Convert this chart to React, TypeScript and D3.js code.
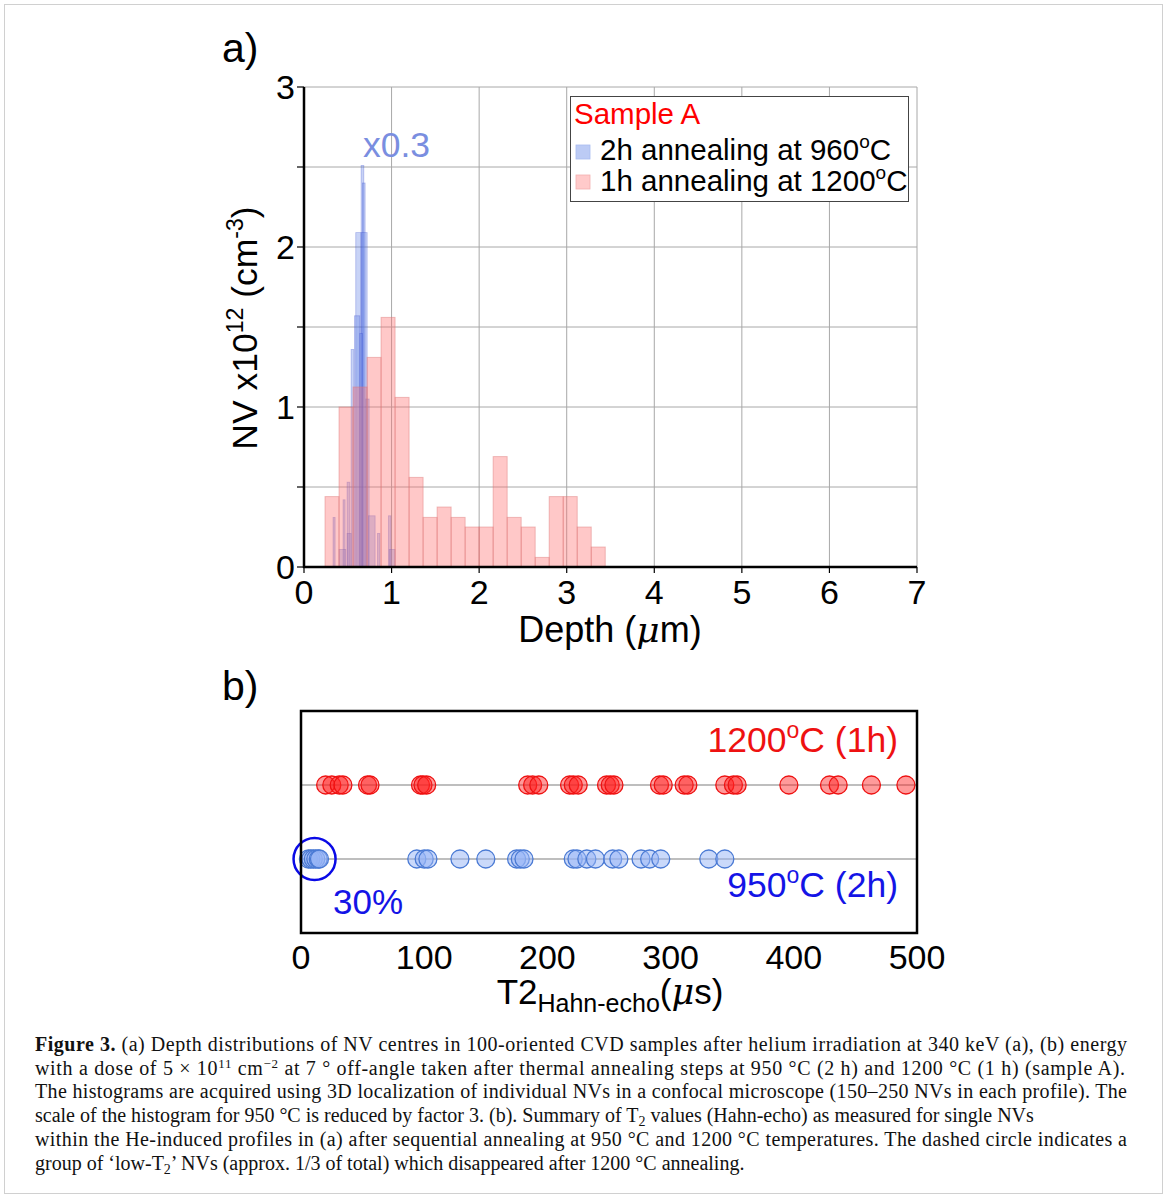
import * as d3 from "d3";

// panel a: 1h annealing at 1200C, bins of 0.16 um
const redBinStart = [0.24, 0.4, 0.56, 0.72, 0.88, 1.04, 1.2, 1.36, 1.52, 1.68, 1.84, 2.0, 2.16, 2.32, 2.48, 2.64, 2.8, 2.96, 3.12, 3.28];
const redValues = [0.44, 1.0, 1.125, 1.31, 1.56, 1.06, 0.56, 0.31, 0.375, 0.31, 0.25, 0.25, 0.69, 0.31, 0.25, 0.06, 0.44, 0.44, 0.25, 0.125];
const redBinWidth = 0.16;

// panel a: 2h annealing at 960C (x0.3), overlapping narrow bars
const blueStart = [0.652, 0.667, 0.591, 0.652, 0.576, 0.538, 0.637, 0.706, 0.492, 0.446, 0.332, 0.4, 0.492, 0.736, 0.839, 0.965, 0.973];
const blueEnd = [0.683, 0.698, 0.652, 0.721, 0.637, 0.568, 0.667, 0.744, 0.523, 0.469, 0.355, 0.477, 0.538, 0.812, 0.866, 0.992, 1.04];
const blueValues = [2.51, 2.4, 2.09, 2.09, 1.57, 1.36, 1.46, 1.05, 0.53, 0.42, 0.31, 0.11, 0.21, 0.32, 0.21, 0.32, 0.11];

const depthTicks = [0, 1, 2, 3, 4, 5, 6, 7];
const nvTicks = [0, 1, 2, 3];
const nvGrid = [0.5, 1, 1.5, 2, 2.5, 3];

// panel b: T2 Hahn-echo (us)
const t2At1200 = [20, 25, 31, 34, 54, 56, 97, 99, 102, 184, 188, 193, 218, 221, 225, 248, 251, 254, 291, 294, 311, 314, 344, 351, 354, 396, 429, 436, 463, 491];
const t2At950 = [6, 8, 10, 12, 14, 15, 94, 100, 103, 129, 150, 175, 178, 181, 221, 224, 232, 239, 253, 258, 276, 283, 292, 331, 344];
const t2Ticks = [0, 100, 200, 300, 400, 500];

const caption = [
  "(a) Depth distributions of NV centres in 100-oriented CVD samples after helium irradiation at 340 keV (a), (b) energy",
  "with a dose of 5 × 10",
  "The histograms are acquired using 3D localization of individual NVs in a confocal microscope (150–250 NVs in each profile). The",
  "scale of the histogram for 950 °C is reduced by factor 3. (b). Summary of T",
  "within the He-induced profiles in (a) after sequential annealing at 950 °C and 1200 °C temperatures. The dashed circle indicates a",
  "group of ‘low-T",
];

const sans = "Liberation Sans, Arial, sans-serif";
const serif = "Liberation Serif, Times New Roman, serif";

export default function App() {
  const xA = d3.scaleLinear().domain([0, 7]).range([304, 917]);
  const yA = d3.scaleLinear().domain([0, 3]).range([567, 87]);
  const xB = d3.scaleLinear().domain([0, 500]).range([301, 917]);
  const yB = d3.scaleLinear().domain([0, 3]).range([933, 711]);

  const capY = [1051, 1075, 1098, 1122, 1146, 1170];

  return (
    <svg width={1167} height={1198} style={{ position: "absolute", left: 0, top: 0 }}>
      <rect x={0} y={0} width={1167} height={1198} fill="#fff" />
      <rect x={4.5} y={4.5} width={1158} height={1189} fill="none" stroke="#d0d0d0" />

      {/* ---------- panel a ---------- */}
      <text x={222} y={62} fontFamily={sans} fontSize={41}>a)</text>
      {depthTicks.map((d) => (
        <line key={"gx" + d} x1={xA(d)} x2={xA(d)} y1={yA(0)} y2={yA(3)} stroke="#a8a8a8" strokeWidth={1} />
      ))}
      {nvGrid.map((d) => (
        <line key={"gy" + d} x1={xA(0)} x2={xA(7)} y1={yA(d)} y2={yA(d)} stroke="#a8a8a8" strokeWidth={1} />
      ))}
      {blueValues.map((v, i) => (
        <rect
          key={"b" + i}
          x={xA(blueStart[i])}
          width={xA(blueEnd[i]) - xA(blueStart[i])}
          y={yA(v)}
          height={yA(0) - yA(v)}
          fill="rgba(95,125,230,0.34)"
          stroke="rgba(40,60,200,0.3)"
          strokeWidth={0.8}
        />
      ))}
      {redValues.map((v, i) => (
        <rect
          key={"r" + i}
          x={xA(redBinStart[i])}
          width={xA(redBinStart[i] + redBinWidth) - xA(redBinStart[i])}
          y={yA(v)}
          height={yA(0) - yA(v)}
          fill="rgba(255,110,110,0.38)"
          stroke="rgba(220,120,120,0.45)"
          strokeWidth={1}
        />
      ))}
      <line x1={xA(0)} x2={xA(0)} y1={yA(0) + 1} y2={yA(3)} stroke="#000" strokeWidth={2.5} />
      <line x1={xA(0) - 1} x2={xA(7)} y1={yA(0)} y2={yA(0)} stroke="#000" strokeWidth={2.5} />
      {nvGrid.concat([0]).map((d) => (
        <line key={"ty" + d} x1={xA(0) - 7} x2={xA(0)} y1={yA(d)} y2={yA(d)} stroke="#000" strokeWidth={1.2} />
      ))}
      {depthTicks.map((d) => (
        <line key={"tx" + d} x1={xA(d)} x2={xA(d)} y1={yA(0)} y2={yA(0) + 6} stroke="#000" strokeWidth={1.2} />
      ))}
      {nvTicks.map((d) => (
        <text key={"ly" + d} x={xA(0) - 9} y={yA(d) + 12} textAnchor="end" fontFamily={sans} fontSize={34}>
          {d}
        </text>
      ))}
      {depthTicks.map((d) => (
        <text key={"lx" + d} x={xA(d)} y={604} textAnchor="middle" fontFamily={sans} fontSize={34}>
          {d}
        </text>
      ))}
      <text x={610} y={642} textAnchor="middle" fontFamily={sans} fontSize={36}>
        Depth (<tspan fontStyle="italic" fontFamily="DejaVu Serif, serif">μ</tspan>m)
      </text>
      <text transform="translate(257,328) rotate(-90)" textAnchor="middle" fontFamily={sans} fontSize={35.5}>
        NV x10<tspan dy={-14} fontSize={23}>12</tspan>
        <tspan dy={14}> (cm</tspan>
        <tspan dy={-14} fontSize={23}>-3</tspan>
        <tspan dy={14}>)</tspan>
      </text>
      <text x={363} y={157} fontFamily={sans} fontSize={35.5} fill="#7a8ee0">x0.3</text>

      {/* legend */}
      <rect x={570.5} y={96.5} width={338} height={105} fill="#fff" stroke="#444" strokeWidth={1} />
      <text x={574} y={124} fontFamily={sans} fontSize={29.5} fill="#ff0000">Sample A</text>
      <rect x={576} y={145} width={14} height={14} fill="#bccbf5" stroke="#a9bbef" strokeWidth={0.8} />
      <text x={600} y={160} fontFamily={sans} fontSize={29.5}>
        2h annealing at 960<tspan dy={-12} fontSize={19}>o</tspan><tspan dy={12}>C</tspan>
      </text>
      <rect x={576} y={175} width={14} height={14} fill="#ffcaca" stroke="#f2b0b0" strokeWidth={0.8} />
      <text x={600} y={191} fontFamily={sans} fontSize={29.5}>
        1h annealing at 1200<tspan dy={-12} fontSize={19}>o</tspan><tspan dy={12}>C</tspan>
      </text>

      {/* ---------- panel b ---------- */}
      <text x={222} y={700} fontFamily={sans} fontSize={41}>b)</text>
      <line x1={xB(0)} x2={xB(500)} y1={yB(2)} y2={yB(2)} stroke="#a8a8a8" strokeWidth={1.5} />
      <line x1={xB(0)} x2={xB(500)} y1={yB(1)} y2={yB(1)} stroke="#a8a8a8" strokeWidth={1.5} />
      {t2At1200.map((v, i) => (
        <circle key={"c12" + i} cx={xB(v)} cy={yB(2)} r={9} fill="rgba(255,30,30,0.45)" stroke="#ee1111" strokeWidth={1.3} />
      ))}
      {t2At950.map((v, i) => (
        <circle key={"c95" + i} cx={xB(v)} cy={yB(1)} r={9} fill="rgba(150,180,245,0.5)" stroke="#4a7ad4" strokeWidth={1.3} />
      ))}
      <circle cx={xB(11)} cy={yB(1)} r={21} fill="none" stroke="#0a0ae6" strokeWidth={2.5} />
      <rect x={xB(0)} y={yB(3)} width={xB(500) - xB(0)} height={yB(0) - yB(3)} fill="none" stroke="#000" strokeWidth={2.5} />
      {t2Ticks.map((d) => (
        <text key={"lb" + d} x={xB(d)} y={969} textAnchor="middle" fontFamily={sans} fontSize={34}>
          {d}
        </text>
      ))}
      <text x={610} y={1004} textAnchor="middle" fontFamily={sans} fontSize={35}>
        T2<tspan dy={8} fontSize={25}>Hahn-echo</tspan>
        <tspan dy={-8}>(</tspan>
        <tspan fontStyle="italic" fontFamily="DejaVu Serif, serif">μ</tspan>
        <tspan>s)</tspan>
      </text>
      <text x={898} y={752} textAnchor="end" fontFamily={sans} fontSize={35.5} fill="#ee1111">
        1200<tspan dy={-14} fontSize={23}>o</tspan><tspan dy={14}>C (1h)</tspan>
      </text>
      <text x={898} y={897} textAnchor="end" fontFamily={sans} fontSize={35.5} fill="#1414e6">
        950<tspan dy={-14} fontSize={23}>o</tspan><tspan dy={14}>C (2h)</tspan>
      </text>
      <text x={333} y={914} fontFamily={sans} fontSize={35} fill="#1414e6">30%</text>

      {/* ---------- caption ---------- */}
      <g fontFamily={serif} fontSize={20} fill="#111">
        <text x={35} y={capY[0]} textLength={1092} lengthAdjust="spacing">
          <tspan fontWeight="bold">Figure 3.</tspan> {caption[0]}
        </text>
        <text x={35} y={capY[1]} textLength={1090} lengthAdjust="spacing">
          {caption[1]}
          <tspan dy={-7} fontSize={13}>11</tspan>
          <tspan dy={7}> cm</tspan>
          <tspan dy={-7} fontSize={13}>−2</tspan>
          <tspan dy={7}> at 7 ° off-angle taken after thermal annealing steps at 950 °C (2 h) and 1200 °C (1 h) (sample A).</tspan>
        </text>
        <text x={35} y={capY[2]} textLength={1092} lengthAdjust="spacing">{caption[2]}</text>
        <text x={35} y={capY[3]}>
          {caption[3]}
          <tspan dy={4} fontSize={14}>2</tspan>
          <tspan dy={-4}> values (Hahn-echo) as measured for single NVs</tspan>
        </text>
        <text x={35} y={capY[4]} textLength={1092} lengthAdjust="spacing">{caption[4]}</text>
        <text x={35} y={capY[5]}>
          {caption[5]}
          <tspan dy={4} fontSize={14}>2</tspan>
          <tspan dy={-4}>’ NVs (approx. 1/3 of total) which disappeared after 1200 °C annealing.</tspan>
        </text>
      </g>
    </svg>
  );
}
